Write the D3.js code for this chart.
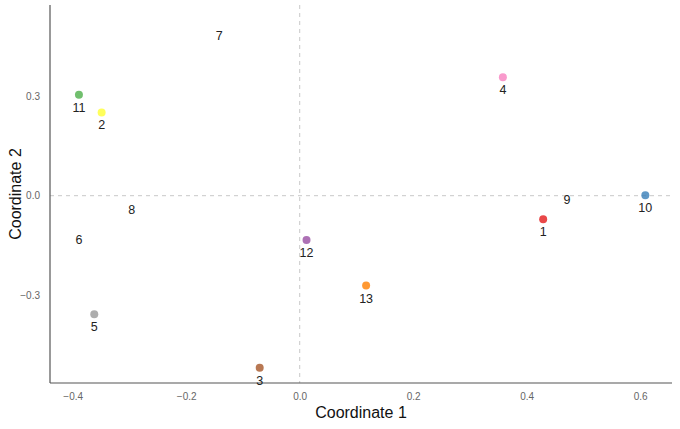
<!DOCTYPE html>
<html><head><meta charset="utf-8">
<script src="https://cdn.jsdelivr.net/npm/d3@7"></script>
<style>body{margin:0;background:#fff;} text{font-family:"Liberation Sans",Arial,sans-serif;}</style>
</head><body>
<svg id="chart" width="680" height="429"></svg>
<script>
const labels = ["1","2","3","4","5","6","7","8","9","10","11","12","13"];
const coord1 = [0.429,-0.349,-0.0705,0.358,-0.362,-0.389,-0.142,-0.296,0.471,0.609,-0.389,0.012,0.117];
const coord2 = [-0.071,0.250,-0.517,0.356,-0.356,-0.094,0.520,-0.005,0.025,0.001,0.303,-0.133,-0.270];
const colors = ["#e41a1c","#ffff33","#a65628","#f781bf","#999999",null,null,null,null,"#377eb8","#4daf4a","#984ea3","#ff7f00"];
const xTicks = [-0.4,-0.2,0.0,0.2,0.4,0.6];
const yTicks = [-0.3,0.0,0.3];

const svg = d3.select("#chart");
const L=50,R=672,T=5,B=383;
const x = d3.scaleLinear().domain([-0.44,0.656]).range([L,R]);
const y = d3.scaleLinear().domain([-0.5625,0.5727]).range([B,T]);

// reference lines
svg.append("line").attr("x1",x(0)).attr("x2",x(0)).attr("y1",T).attr("y2",B)
  .attr("stroke","#c8c8c8").attr("stroke-width",1).attr("stroke-dasharray","4,4");
svg.append("line").attr("x1",L).attr("x2",R).attr("y1",y(0)).attr("y2",y(0))
  .attr("stroke","#c8c8c8").attr("stroke-width",1).attr("stroke-dasharray","4,4");

// axes
const xAxis = svg.append("g").attr("transform",`translate(0,${B})`)
  .call(d3.axisBottom(x).tickValues(xTicks).tickFormat(d3.format(".1f")).tickSize(0).tickPadding(10));
const yAxis = svg.append("g").attr("transform",`translate(${L},0)`)
  .call(d3.axisLeft(y).tickValues(yTicks).tickFormat(d3.format(".1f")).tickSize(0).tickPadding(10));
[xAxis,yAxis].forEach(a=>{
  a.select(".domain").remove();
  a.selectAll("text").attr("fill","#666").style("font-size","10px");
});
svg.append("line").attr("x1",L).attr("x2",L).attr("y1",T).attr("y2",B).attr("stroke","#555").attr("stroke-width",1.2);
svg.append("line").attr("x1",L).attr("x2",R).attr("y1",B).attr("y2",B).attr("stroke","#555").attr("stroke-width",1.2);

svg.append("text").attr("x",(L+R)/2).attr("y",418).attr("text-anchor","middle")
  .style("font-size","16px").attr("fill","#111").text("Coordinate 1");
svg.append("text").attr("transform",`translate(21,${(T+B)/2}) rotate(-90)`).attr("text-anchor","middle")
  .style("font-size","16px").attr("fill","#111").text("Coordinate 2");

const data = labels.map((l,i)=>({l,x:coord1[i],y:coord2[i],c:colors[i]}));
svg.selectAll("circle.pt").data(data.filter(d=>d.c)).enter().append("circle")
  .attr("cx",d=>x(d.x)).attr("cy",d=>y(d.y)).attr("r",4)
  .attr("fill",d=>d.c).attr("fill-opacity",0.8);
svg.selectAll("text.lab").data(data).enter().append("text")
  .attr("x",d=>x(d.x)).attr("y",d=>y(d.y)+17).attr("text-anchor","middle")
  .style("font-size","12.5px").attr("fill","#222").text(d=>d.l);
</script>
</body></html>
